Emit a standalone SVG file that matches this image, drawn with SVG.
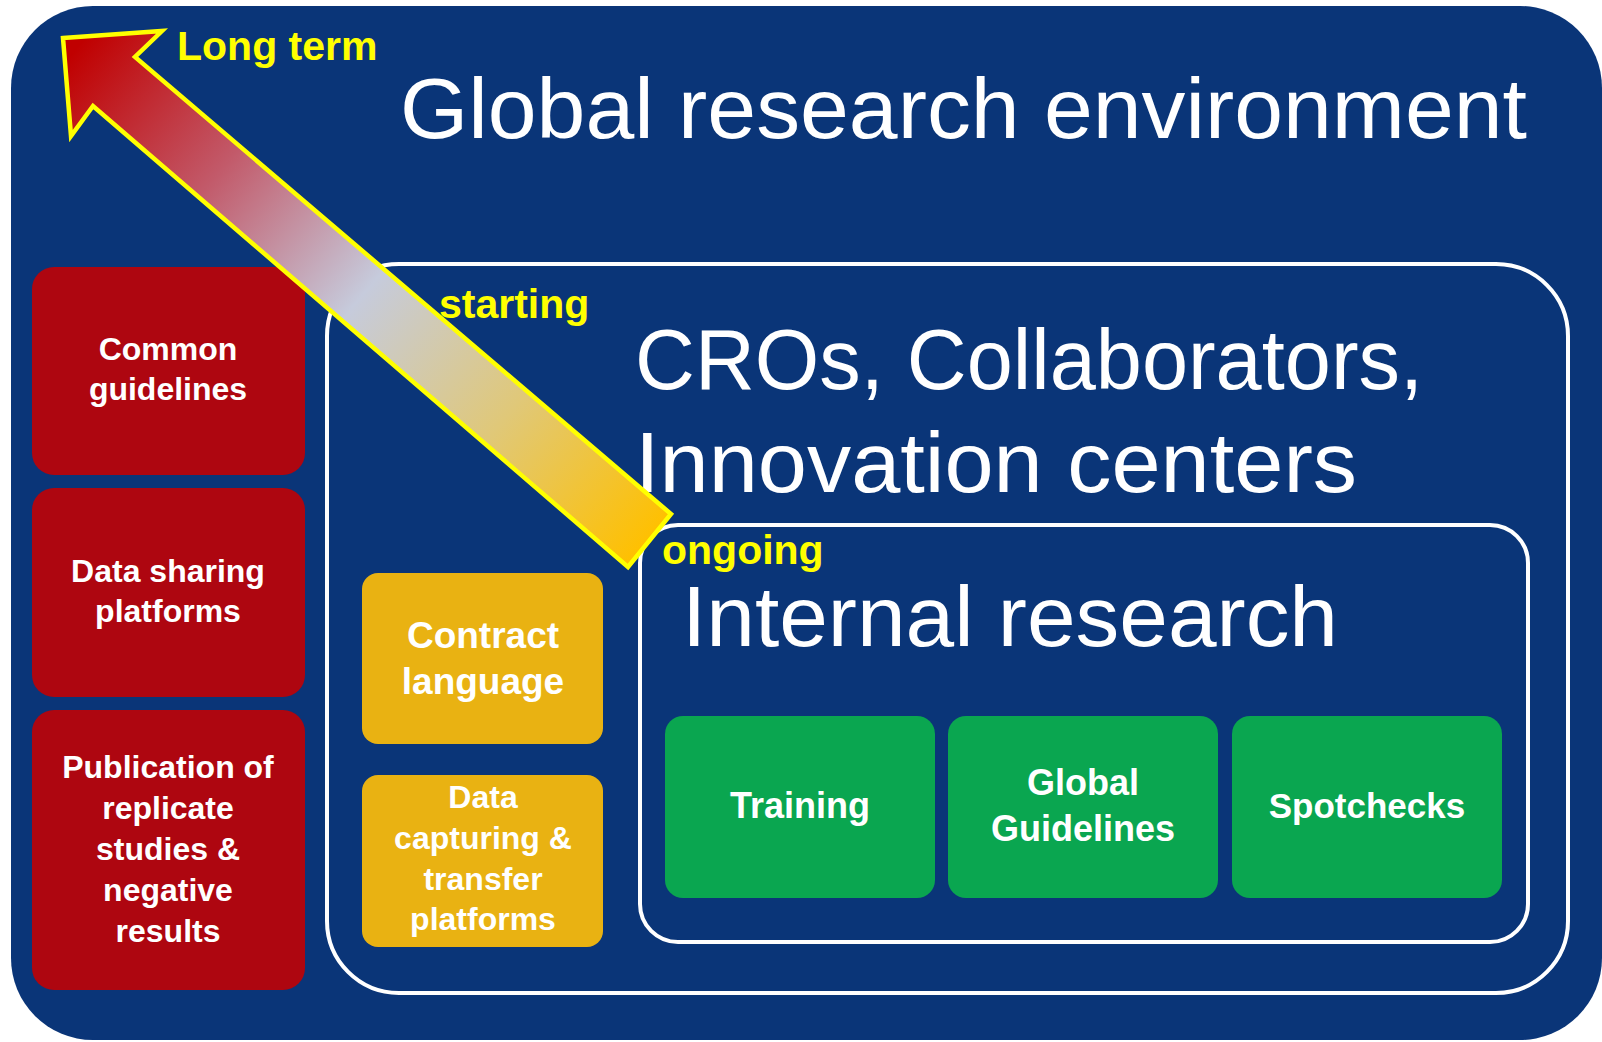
<svg xmlns="http://www.w3.org/2000/svg" width="1602" height="1042" viewBox="0 0 1602 1042">
<defs>
<style>
.bg{fill:#0A3578}
.frame{fill:none;stroke:#FFFFFF;stroke-width:4}
.red{fill:#AE0610}
.org{fill:#E9B212}
.grn{fill:#0AA650}
.title{font-family:"Liberation Sans",Arial,sans-serif;fill:#FFFFFF;font-size:86px}
.lbl{font-family:"Liberation Sans",Arial,sans-serif;font-weight:bold;fill:#FFFF00;font-size:41px}
.bt{font-family:"Liberation Sans",Arial,sans-serif;font-weight:bold;fill:#FFFFFF;text-anchor:middle}
</style>
<linearGradient id="arrowGrad" gradientUnits="userSpaceOnUse" x1="650" y1="540" x2="75" y2="50">
<stop offset="0" stop-color="#FFC000"/>
<stop offset="0.25" stop-color="#E0C878"/>
<stop offset="0.5" stop-color="#C6CBDC"/>
<stop offset="0.75" stop-color="#C25A6A"/>
<stop offset="1" stop-color="#C00000"/>
</linearGradient>
</defs>

<g id="global-environment">
<rect class="bg" x="11" y="6" width="1591" height="1034" rx="82"/>
<text class="title" x="400" y="138" textLength="1127" lengthAdjust="spacingAndGlyphs">Global research environment</text>
</g>

<g id="cros-box">
<rect class="frame" x="327" y="264" width="1241" height="729" rx="72"/>
<text class="title" x="635" y="389" textLength="788" lengthAdjust="spacingAndGlyphs">CROs, Collaborators,</text>
<text class="title" x="635" y="492" textLength="722" lengthAdjust="spacingAndGlyphs">Innovation centers</text>
</g>

<g id="internal-box">
<rect class="frame" x="640" y="525" width="888" height="417" rx="38"/>
<text class="title" x="682" y="646" textLength="656" lengthAdjust="spacingAndGlyphs">Internal research</text>
</g>

<g id="common-guidelines">
<rect class="red" x="32" y="267" width="273" height="208" rx="22"/>
<text class="bt" font-size="32" x="168" y="360">Common</text>
<text class="bt" font-size="32" x="168" y="400">guidelines</text>
</g>

<g id="data-sharing">
<rect class="red" x="32" y="488" width="273" height="209" rx="22"/>
<text class="bt" font-size="32" x="168" y="582">Data sharing</text>
<text class="bt" font-size="32" x="168" y="622">platforms</text>
</g>

<g id="publication">
<rect class="red" x="32" y="710" width="273" height="280" rx="22"/>
<text class="bt" font-size="32" x="168" y="778">Publication of</text>
<text class="bt" font-size="32" x="168" y="819">replicate</text>
<text class="bt" font-size="32" x="168" y="860">studies &amp;</text>
<text class="bt" font-size="32" x="168" y="901">negative</text>
<text class="bt" font-size="32" x="168" y="942">results</text>
</g>

<g id="contract-language">
<rect class="org" x="362" y="573" width="241" height="171" rx="16"/>
<text class="bt" font-size="37" x="483" y="648">Contract</text>
<text class="bt" font-size="37" x="483" y="694">language</text>
</g>

<g id="data-capturing">
<rect class="org" x="362" y="775" width="241" height="172" rx="16"/>
<text class="bt" font-size="32" x="483" y="808">Data</text>
<text class="bt" font-size="32" x="483" y="849">capturing &amp;</text>
<text class="bt" font-size="32" x="483" y="890">transfer</text>
<text class="bt" font-size="32" x="483" y="930">platforms</text>
</g>

<g id="training">
<rect class="grn" x="665" y="716" width="270" height="182" rx="18"/>
<text class="bt" font-size="36" x="800" y="818">Training</text>
</g>

<g id="global-guidelines">
<rect class="grn" x="948" y="716" width="270" height="182" rx="18"/>
<text class="bt" font-size="36" x="1083" y="795">Global</text>
<text class="bt" font-size="36" x="1083" y="841">Guidelines</text>
</g>

<g id="spotchecks">
<rect class="grn" x="1232" y="716" width="270" height="182" rx="18"/>
<text class="bt" font-size="35" x="1367" y="818">Spotchecks</text>
</g>

<g id="connectors">
<polygon points="63,38 162,31 135,57 671,514 628,567 93,106 71,136" fill="url(#arrowGrad)" stroke="#FFFF00" stroke-width="4.5" stroke-linejoin="miter"/>
</g>

<g id="labels">
<text class="lbl" x="177" y="60">Long term</text>
<text class="lbl" x="439" y="318">starting</text>
<text class="lbl" x="662" y="564">ongoing</text>
</g>
</svg>
